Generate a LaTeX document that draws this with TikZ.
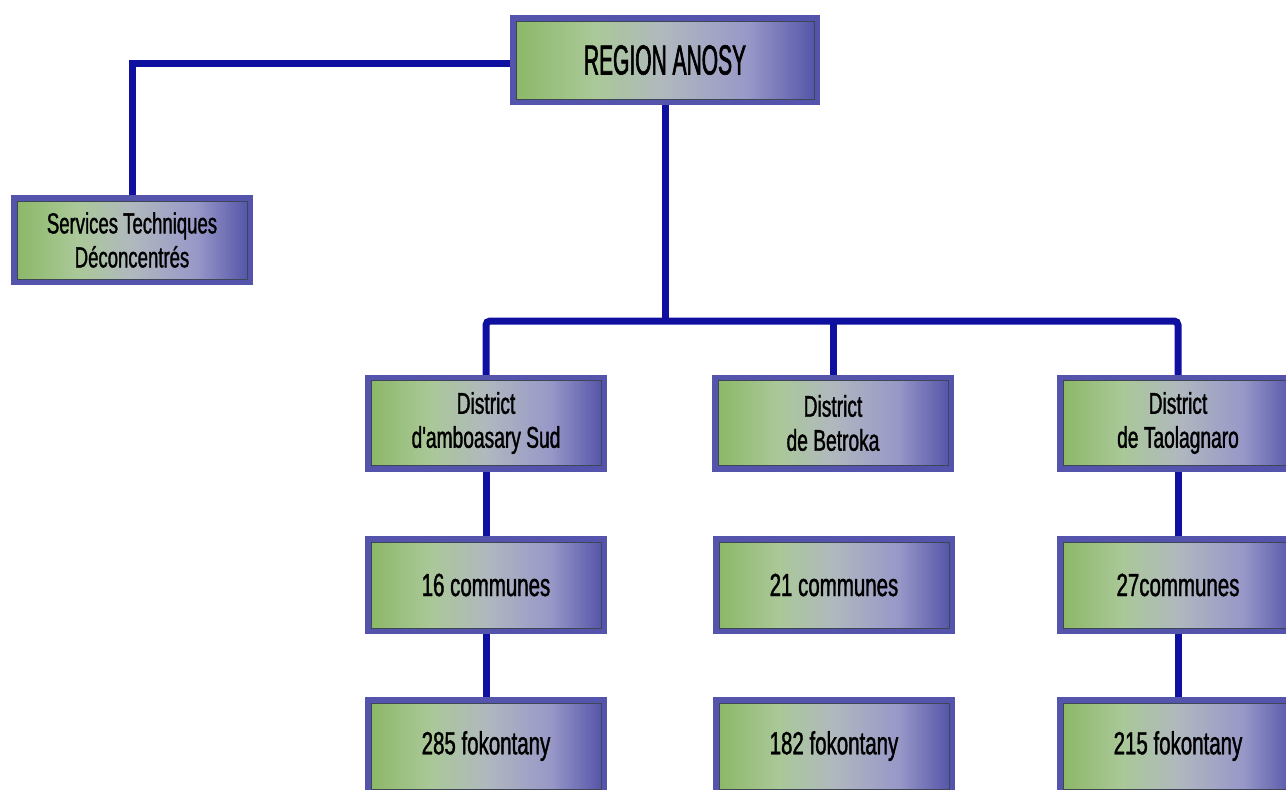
\documentclass[tikz,border=0pt]{standalone}
\usepackage{fontspec}
\setmainfont{Liberation Sans}
\newfontfamily\boxfont[FakeStretch=0.64,FakeBold=1.2,Ligatures=TeXOff]{Liberation Sans}
\newfontfamily\titlefont[FakeStretch=0.5,FakeBold=1.4]{Liberation Sans}
\usetikzlibrary{backgrounds}

\definecolor{frameblue}{RGB}{84,84,172}
\definecolor{linkblue}{RGB}{16,16,160}
\definecolor{edgegrey}{RGB}{62,70,86}
\definecolor{shgreen}{RGB}{140,184,104}
\definecolor{shlight}{RGB}{170,200,152}
\definecolor{shgrey}{RGB}{176,184,190}
\definecolor{shlav}{RGB}{152,152,200}
\definecolor{shblue}{RGB}{86,86,170}
\pgfdeclarehorizontalshading{boxshade}{100bp}{color(0bp)=(shgreen); color(25bp)=(shgreen); color(38bp)=(shlight); color(50bp)=(shgrey); color(64bp)=(shlav); color(75bp)=(shblue); color(100bp)=(shblue)}

\begin{document}
\begin{tikzpicture}[x=1pt, y=-1pt,
  unit/.style={draw=edgegrey, line width=0.8pt, shading=boxshade,
    preaction={draw=frameblue, line width=12pt},
    minimum width=230pt, minimum height=86pt, inner sep=0pt, align=center,
    font=\boxfont\fontsize{32}{34}\selectfont},
  link/.style={draw=linkblue, line width=7pt}]
  \useasboundingbox (0,0) rectangle (1286,790);

  \node[unit, minimum width=298pt, minimum height=78pt, font=\titlefont\fontsize{42}{42}\selectfont] (region) at (665,60) {REGION ANOSY};
  \node[unit, minimum height=78pt, font=\boxfont\fontsize{29}{34}\selectfont] (services) at (132,240) {Services Techniques\\Déconcentrés};

  \node[unit, minimum height=85pt, font=\boxfont\fontsize{30}{34}\selectfont] (amboasary) at (486,423) {District\\d'amboasary Sud};
  \node[unit, minimum height=85pt, font=\boxfont\fontsize{30}{34}\selectfont] (betroka) at (833,423) {District\\de Betroka};
  \node[unit, minimum height=85pt, font=\boxfont\fontsize{30}{34}\selectfont] (taolagnaro) at (1178,423) {District\\de Taolagnaro};

  \node[unit] (comA) at (486,585) {16 communes};
  \node[unit] (comB) at (834,585) {21 communes};
  \node[unit] (comC) at (1178,585) {27communes};

  \node[unit] (fokA) at (486,746) {285 fokontany};
  \node[unit] (fokB) at (834,746) {182 fokontany};
  \node[unit] (fokC) at (1178,746) {215 fokontany};

  \coordinate (bus) at (665,321);
  \begin{scope}[on background layer]
    \draw[link] ([yshift=-3pt]region.west) -| (services.north);
    \draw[link] (region.south) -- (bus);
    \draw[link, rounded corners=4pt] (amboasary.north) |- (bus) -| (taolagnaro.north);
    \draw[link] (betroka.north) -- (betroka.north |- bus);
    \draw[link] (amboasary) -- (comA);
    \draw[link] (comA) -- (fokA);
    \draw[link] (taolagnaro) -- (comC);
    \draw[link] (comC) -- (fokC);
  \end{scope}
\end{tikzpicture}
\end{document}
